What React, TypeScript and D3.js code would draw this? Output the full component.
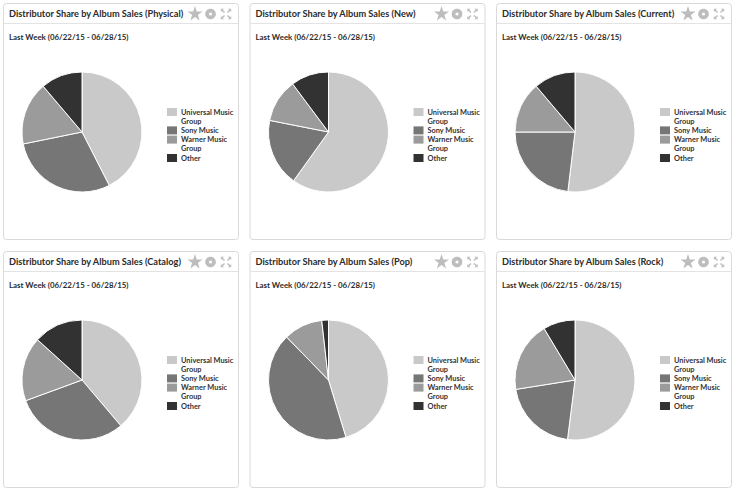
import React from "react";
import * as d3 from "d3";

const categories = ["Universal Music Group", "Sony Music", "Warner Music Group", "Other"];
const legendLines = [["Universal Music", "Group"], ["Sony Music"], ["Warner Music", "Group"], ["Other"]];
const colors = ["#c9c9c9", "#767676", "#9b9b9b", "#323232"];

const titles = [
  "Distributor Share by Album Sales (Physical)",
  "Distributor Share by Album Sales (New)",
  "Distributor Share by Album Sales (Current)",
  "Distributor Share by Album Sales (Catalog)",
  "Distributor Share by Album Sales (Pop)",
  "Distributor Share by Album Sales (Rock)",
];
const subtitle = "Last Week (06/22/15 - 06/28/15)";

const physical = [42.5, 29.3, 17.0, 11.2];
const newRel = [59.9, 18.2, 11.7, 10.2];
const current = [51.9, 23.1, 13.8, 11.2];
const catalog = [38.8, 30.6, 17.3, 13.3];
const pop = [45.3, 42.4, 10.5, 1.8];
const rock = [52.0, 20.5, 18.9, 8.6];
const series = [physical, newRel, current, catalog, pop, rock];

const W = 732, H = 489;
const PW = 235, PH = 236;
const px = d3.scaleLinear().domain([0, 2]).range([3, 496]);
const py = d3.scaleLinear().domain([0, 1]).range([3, 251]);
const R = 60;
const FONT = "Lato, 'Open Sans', sans-serif";

function Icons({ x, y }: { x: number; y: number }) {
  const star = d3.symbol(d3.symbolStar, 70)() as string;
  const c = "#bdbdbd";
  const teeth = d3.range(8);
  return (
    <g fill={c} stroke="none">
      <path d={star} transform={`translate(${x},${y})`} />
      <g transform={`translate(${x + 15.5},${y})`}>
        {teeth.map((t) => (
          <rect key={t} x={-1.3} y={-5.2} width={2.6} height={10.4} transform={`rotate(${t * 22.5})`} />
        ))}
        <circle r={3.8} />
        <circle r={1.6} fill="#fff" />
      </g>
      <g transform={`translate(${x + 31},${y})`} stroke={c} strokeWidth={1.4} fill="none">
        {[0, 90, 180, 270].map((a) => (
          <g key={a} transform={`rotate(${a})`}>
            <line x1={1.5} y1={-1.5} x2={4.6} y2={-4.6} />
            <path d="M2,-5.2 L5.2,-5.2 L5.2,-2 Z" fill={c} stroke="none" />
          </g>
        ))}
      </g>
    </g>
  );
}

function Panel({ i }: { i: number }) {
  const col = i % 3, row = Math.floor(i / 3);
  const x0 = px(col), y0 = py(row);
  const pie = d3.pie<number>().sort(null).value((d) => d);
  const arc = d3.arc<d3.PieArcDatum<number>>().innerRadius(0).outerRadius(R);
  const arcs = pie(series[i]);
  const lineH = 9.2;
  let lineIdx = 0;
  const legendTop = 109;
  return (
    <g transform={`translate(${x0},${y0})`}>
      <rect x={0.5} y={0.5} width={PW} height={PH} rx={3} fill="#fff" stroke="#d9d9d9" />
      <line x1={1} x2={PW} y1={20.5} y2={20.5} stroke="#e3e3e3" />
      <text x={6} y={14} fontFamily={FONT} fontWeight={700} fontSize={9.2} fill="#2b2b2b">
        {titles[i]}
      </text>
      <Icons x={192} y={11} />
      <text x={6} y={37} fontFamily={FONT} fontWeight={700} fontSize={7.9} fill="#2b2b2b">
        {subtitle}
      </text>
      <g transform={`translate(79,129)`}>
        {arcs.map((a, k) => (
          <path key={k} d={arc(a) as string} fill={colors[k]} stroke="#fff" strokeWidth={1} strokeLinejoin="round" />
        ))}
      </g>
      <g fontFamily={FONT} fontWeight={700} fontSize={7.4} fill="#333">
        {categories.map((c, k) => {
          const start = lineIdx;
          lineIdx += legendLines[k].length;
          const cy = legendTop + start * lineH;
          return (
            <g key={c}>
              <rect x={164} y={cy - 4} width={10} height={8} fill={colors[k]} />
              {legendLines[k].map((ln, j) => (
                <text key={j} x={178} y={cy + j * lineH + 2.6}>
                  {ln}
                </text>
              ))}
            </g>
          );
        })}
      </g>
    </g>
  );
}

export default function App() {
  return (
    <svg width={W} height={H} style={{ position: "absolute", left: 0, top: 0, background: "#fff" }}>
      {series.map((_, i) => (
        <Panel key={i} i={i} />
      ))}
    </svg>
  );
}
